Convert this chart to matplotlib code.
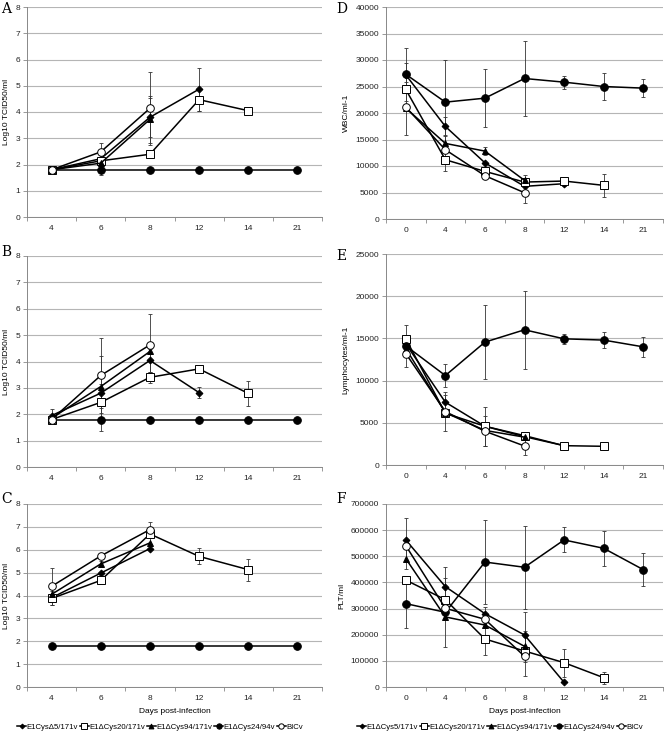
import numpy as np
import matplotlib.pyplot as plt

plt.rcParams['font.family'] = ['Liberation Sans', 'DejaVu Sans']

nan = np.nan

# ---- virus titre panels (A, B, C) ----
days_v = ['4', '6', '8', '12', '14', '21']
labels_c = ['E1Cys\u03945/171v', 'E1\u0394Cys20/171v', 'E1\u0394Cys94/171v',
            'E1\u0394Cys24/94v', 'BICv']
labels_f = ['E1\u0394Cys5/171v', 'E1\u0394Cys20/171v', 'E1\u0394Cys94/171v',
            'E1\u0394Cys24/94v', 'BICv']

# A
a_cys5 = [1.8, 2.22, 3.8, 4.87, nan, nan]
a_cys5_err = [nan, 0.35, 0.75, 0.82, nan, nan]
a_cys20 = [1.8, 2.14, 2.39, 4.47, 4.05, nan]
a_cys20_err = [nan, nan, nan, 0.45, nan, nan]
a_cys94 = [1.8, 2.05, 3.72, nan, nan, nan]
a_cys94_err = [nan, nan, 0.9, nan, nan, nan]
a_cys24 = [1.8, 1.8, 1.8, 1.8, 1.8, 1.8]
a_cys24_err = [nan, 0.2, nan, nan, nan, nan]
a_bicv = [1.8, 2.48, 4.14, nan, nan, nan]
a_bicv_err = [nan, 0.35, 1.4, nan, nan, nan]

# B
b_cys5 = [1.95, 2.8, 4.04, 2.82, nan, nan]
b_cys5_err = [0.25, 0.35, 0.45, 0.22, nan, nan]
b_cys20 = [1.8, 2.45, 3.4, 3.72, 2.79, nan]
b_cys20_err = [nan, nan, 0.2, nan, 0.47, nan]
b_cys94 = [1.85, 3.05, 4.38, nan, nan, nan]
b_cys94_err = [nan, 1.15, nan, nan, nan, nan]
b_cys24 = [1.8, 1.8, 1.8, 1.8, 1.8, 1.8]
b_cys24_err = [nan, 0.42, nan, nan, nan, nan]
b_bicv = [1.8, 3.47, 4.63, nan, nan, nan]
b_bicv_err = [nan, 1.42, 1.17, nan, nan, nan]

# C
c_cys5 = [3.9, 4.98, 6.05, nan, nan, nan]
c_cys5_err = [0.3, nan, nan, nan, nan, nan]
c_cys20 = [3.87, 4.66, 6.69, 5.71, 5.13, nan]
c_cys20_err = [nan, nan, nan, 0.35, 0.48, nan]
c_cys94 = [4.05, 5.38, 6.3, nan, nan, nan]
c_cys94_err = [nan, 0.12, 0.25, nan, nan, nan]
c_cys24 = [1.8, 1.8, 1.8, 1.8, 1.8, 1.8]
c_cys24_err = [nan, nan, nan, nan, nan, nan]
c_bicv = [4.4, 5.73, 6.88, nan, nan, nan]
c_bicv_err = [0.82, nan, 0.33, nan, nan, nan]

# ---- haematology panels (D, E, F) ----
days_h = ['0', '4', '6', '8', '12', '14', '21']

# D  WBC
d_cys5 = [27200, 17460, 10600, 6160, 6660, nan, nan]
d_cys5_err = [2200, 1800, nan, nan, 500, nan, nan]
d_cys20 = [24440, 11180, 8980, 6970, 7160, 6350, nan]
d_cys20_err = [nan, 2200, nan, nan, nan, 2200, nan]
d_cys94 = [20920, 14260, 12810, 7290, nan, nan, nan]
d_cys94_err = [5000, 1500, 800, 1100, nan, nan, nan]
d_cys24 = [27300, 22050, 22800, 26510, 25820, 25000, 24690]
d_cys24_err = [5000, 8000, 5500, 7000, 1250, 2500, 1650]
d_bicv = [21110, 13070, 8170, 4960, nan, nan, nan]
d_bicv_err = [nan, nan, nan, 1900, nan, nan, nan]

# E  lymphocytes
e_cys5 = [14360, 7440, 4590, 3360, 2290, nan, nan]
e_cys5_err = [nan, 800, nan, nan, nan, nan, nan]
e_cys20 = [14950, 6130, 4590, 3480, 2290, 2215, nan]
e_cys20_err = [nan, nan, 2300, nan, nan, nan, nan]
e_cys94 = [13800, 6200, 4100, 3300, nan, nan, nan]
e_cys94_err = [nan, nan, nan, nan, nan, nan, nan]
e_cys24 = [14120, 10600, 14560, 16020, 14950, 14800, 14000]
e_cys24_err = [2500, 1400, 4350, 4600, 600, 900, 1150]
e_bicv = [13210, 6330, 4000, 2250, nan, nan, nan]
e_bicv_err = [nan, 2350, 1750, 1100, nan, nan, nan]

# F  platelets
f_cys5 = [562500, 384000, 280600, 199000, 17900, nan, nan]
f_cys5_err = [83000, 75000, 25000, 88000, nan, nan, nan]
f_cys20 = [409000, 334000, 183700, 137700, 93100, 35700, nan]
f_cys20_err = [nan, nan, 62000, nan, 53000, 23000, nan]
f_cys94 = [491000, 268000, 237000, 155600, nan, nan, nan]
f_cys94_err = [40000, nan, nan, 60000, nan, nan, nan]
f_cys24 = [319000, 285700, 478000, 458000, 562500, 530600, 449000]
f_cys24_err = [93000, 132000, 160000, 158000, 48000, 67000, 62000]
f_bicv = [540800, 301000, 259000, 117300, nan, nan, nan]
f_bicv_err = [nan, nan, nan, 75000, nan, nan, nan]

W, H = 664, 732
fig = plt.figure(figsize=(W / 100, H / 100), dpi=100)

styles = [
    dict(marker='D', ms=3.5, mfc='black'),
    dict(marker='s', ms=5.5, mfc='white'),
    dict(marker='^', ms=5, mfc='black'),
    dict(marker='o', ms=5.5, mfc='black'),
    dict(marker='o', ms=5.5, mfc='white'),
]


def make_axes(left, top, right, bottom):
    return fig.add_axes([left / W, 1 - bottom / H, (right - left) / W, (bottom - top) / H])


def draw_panel(ax, cats, series, ymax, ystep, ylabel, letter, lx, ly):
    x = np.arange(len(cats))
    lines = []
    for (vals, err), st in zip(series, styles):
        vals = np.array(vals, dtype=float)
        err = np.array(err, dtype=float)
        ax.errorbar(x, vals, yerr=err, fmt='none', ecolor='#333333',
                    elinewidth=0.6, capsize=1.5, capthick=0.6, zorder=2)
        ln, = ax.plot(x, vals, color='black', lw=1.1, mec='black', mew=0.7,
                      zorder=3, **st)
        lines.append(ln)
    ax.set_xlim(-0.5, len(cats) - 0.5)
    ax.set_ylim(0, ymax)
    yt = np.arange(0, ymax + ystep / 2, ystep)
    ax.set_yticks(yt)
    ax.set_yticklabels(['%d' % v for v in yt])
    ax.set_xticks(x)
    ax.set_xticklabels(cats)
    ax.set_xticks(np.arange(-0.5, len(cats)), minor=True)
    ax.tick_params(axis='x', which='major', length=0, labelsize=6, pad=6, colors='#222222')
    ax.tick_params(axis='x', which='minor', length=3, width=0.6, color='#888888')
    ax.tick_params(axis='y', length=3, width=0.6, color='#888888', labelsize=6,
                   labelcolor='#222222', pad=2)
    ax.yaxis.grid(True, color='#b5b5b5', lw=0.8)
    ax.set_axisbelow(True)
    for s in ['top', 'right']:
        ax.spines[s].set_visible(False)
    for s in ['left', 'bottom']:
        ax.spines[s].set_color('#888888')
        ax.spines[s].set_linewidth(0.7)
    ax.set_ylabel(ylabel, fontsize=6, labelpad=4)
    fig.text(lx / W, 1 - ly / H, letter, family='DejaVu Serif', fontsize=10,
             ha='left', va='top')
    return lines


ax_a = make_axes(27, 7, 322, 217)
draw_panel(ax_a, days_v, [(a_cys5, a_cys5_err), (a_cys20, a_cys20_err),
                          (a_cys94, a_cys94_err), (a_cys24, a_cys24_err),
                          (a_bicv, a_bicv_err)], 8, 1, 'Log10 TCID50/ml', 'A', 1, 2)

ax_b = make_axes(27, 256, 322, 467)
draw_panel(ax_b, days_v, [(b_cys5, b_cys5_err), (b_cys20, b_cys20_err),
                          (b_cys94, b_cys94_err), (b_cys24, b_cys24_err),
                          (b_bicv, b_bicv_err)], 8, 1, 'Log10 TCID50/ml', 'B', 1, 245)

ax_c = make_axes(27, 504, 322, 687)
lc = draw_panel(ax_c, days_v, [(c_cys5, c_cys5_err), (c_cys20, c_cys20_err),
                               (c_cys94, c_cys94_err), (c_cys24, c_cys24_err),
                               (c_bicv, c_bicv_err)], 8, 1, 'Log10 TCID50/ml', 'C', 1, 492)
ax_c.set_xlabel('Days post-infection', fontsize=6, labelpad=4)

ax_d = make_axes(386, 7, 663, 219)
draw_panel(ax_d, days_h, [(d_cys5, d_cys5_err), (d_cys20, d_cys20_err),
                          (d_cys94, d_cys94_err), (d_cys24, d_cys24_err),
                          (d_bicv, d_bicv_err)], 40000, 5000, 'WBC/ml-1', 'D', 336, 2)

ax_e = make_axes(386, 254, 663, 465)
draw_panel(ax_e, days_h, [(e_cys5, e_cys5_err), (e_cys20, e_cys20_err),
                          (e_cys94, e_cys94_err), (e_cys24, e_cys24_err),
                          (e_bicv, e_bicv_err)], 25000, 5000, 'Lymphocytes/ml-1', 'E', 336, 249)

ax_f = make_axes(386, 504, 663, 687)
lf = draw_panel(ax_f, days_h, [(f_cys5, f_cys5_err), (f_cys20, f_cys20_err),
                               (f_cys94, f_cys94_err), (f_cys24, f_cys24_err),
                               (f_bicv, f_bicv_err)], 700000, 100000, 'PLT/ml', 'F', 336, 492)
ax_f.set_xlabel('Days post-infection', fontsize=6, labelpad=4)

leg_kw = dict(loc='center', ncol=5, frameon=False, fontsize=5.6, handlelength=1.2,
              handletextpad=0.05, columnspacing=0.2, markerscale=0.7, borderpad=0)
fig.legend(lc, labels_c, bbox_to_anchor=(160 / W, 1 - 727 / H), **leg_kw)
fig.legend(lf, labels_f, bbox_to_anchor=(500 / W, 1 - 727 / H), **leg_kw)

fig.savefig('out.png', dpi=100)
